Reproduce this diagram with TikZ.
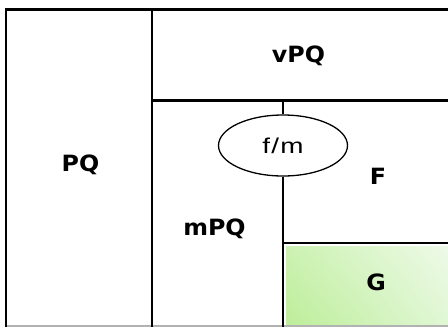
\documentclass[tikz,border=0pt]{standalone}
\usepackage{fontspec}
\usepackage{graphicx}
\setmainfont{Liberation Sans}
\newfontfamily\lblfont{DejaVu Sans}
\newfontfamily\fmfont{Liberation Sans}
\usetikzlibrary{shapes.geometric,shadings}
\definecolor{gLL}{HTML}{BDEE9A}
\definecolor{gUL}{HTML}{CCF2B2}
\definecolor{gLR}{HTML}{E0F7D4}
\definecolor{gUR}{HTML}{EEFAE8}
\begin{document}
\begin{tikzpicture}[x=1bp,y=-1bp,line width=2.2bp,
  lbl/.style={font=\fontsize{22.5}{24}\selectfont\lblfont\bfseries,inner sep=0pt,anchor=base,xscale=1.06},
  wall/.style={draw=black,line width=2.2bp},
  fmshape/.style={ellipse,draw,line width=1.3bp,fill=white,minimum width=129bp,minimum height=61bp,inner sep=0pt,font=\fontsize{21.5}{23}\selectfont\fmfont}]
\useasboundingbox (0,0) rectangle (448,327);
\fill[white] (0,0) rectangle (448,327);
% green area
\shade[lower left=gLL,upper left=gUL,lower right=gLR,upper right=gUR] (286,246) rectangle (448,324.6);
% bottom edge
\draw[black!30,line width=1.5bp] (6.3,326) -- (448,326);
% walls
\draw[wall] (6.3,326.5) -- (6.3,9.5) -- (450,9.5);
\draw[wall] (152,9.5) -- (152,326.5);
\draw[wall] (152,100.5) -- (450,100.5);
\draw[wall] (283,243) -- (450,243);
\coordinate (t) at (283,100.5);
\coordinate (b) at (283,326.5);
\node[fmshape] (fm) at (283,145.5) {\scalebox{1.3}[1]{f\kern1bp/\kern1bp m}};
\draw[wall] (t) -- (fm.north);
\draw[wall] (fm.south) -- (b);
% labels
\node[lbl] (vpq) at (298.5,62) {vPQ};
\node[lbl] (pq) at (80.5,171.5) {PQ};
\node[lbl] (mpq) at (214.5,235) {mPQ};
\node[lbl] (f) at (378,184.5) {F};
\node[lbl] (g) at (376,290.5) {G};
\end{tikzpicture}
\end{document}
